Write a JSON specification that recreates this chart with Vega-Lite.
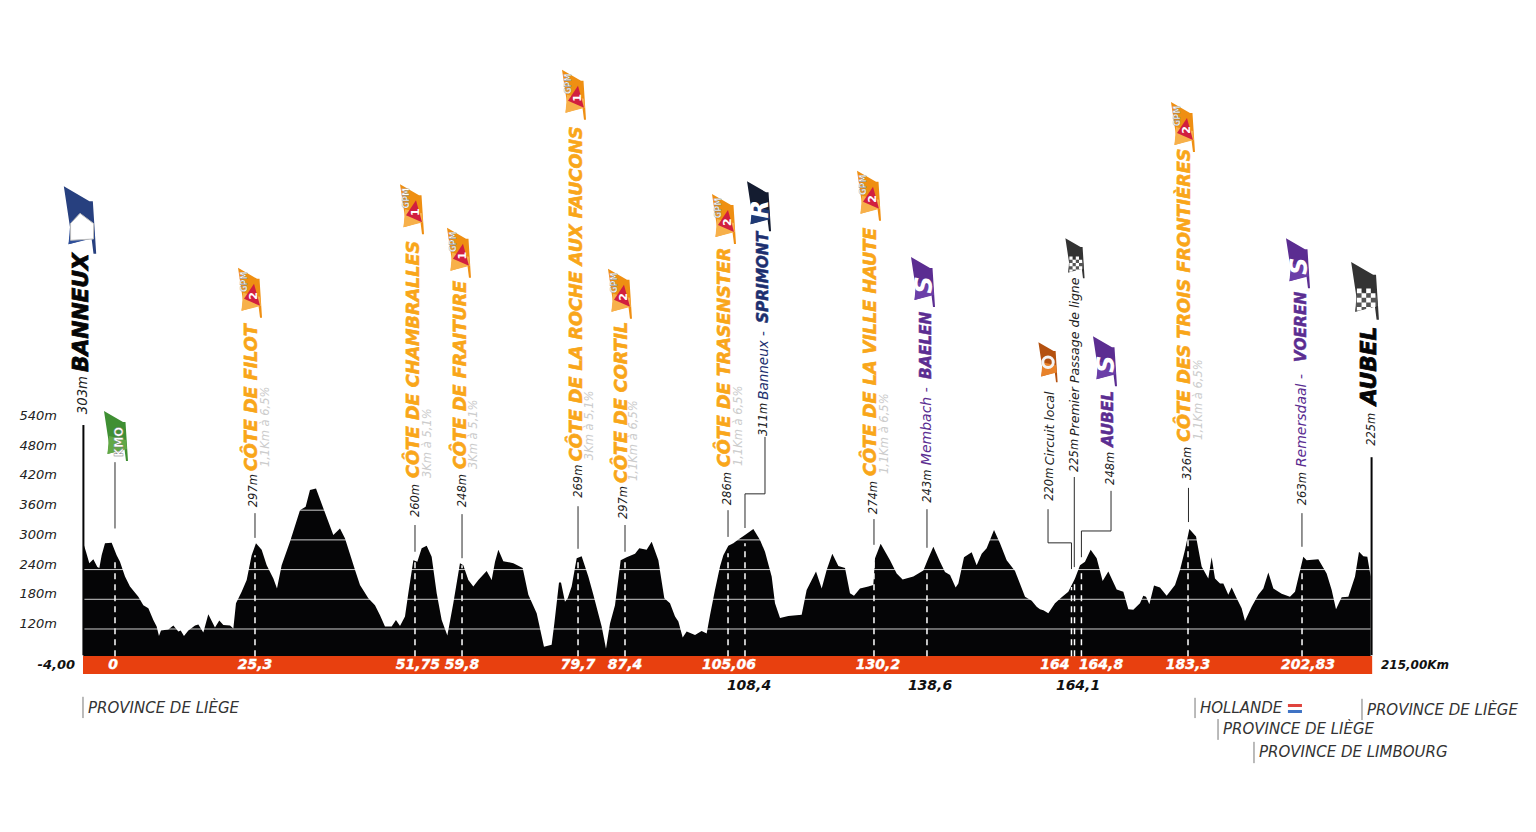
{
"$schema":"https://vega.github.io/schema/vega-lite/v6.json",
"autosize":{"type":"fit","contains":"padding"},"width":1536,"height":832,"padding":0,"background":"white",
"view":{"stroke":null},
"datasets":{
"profile":[{"km":-5.41,"elev":293},{"km":-4.96,"elev":276},{"km":-4.39,"elev":253},{"km":-3.7,"elev":261},{"km":-3.02,"elev":245},{"km":-2.68,"elev":243},{"km":-2.28,"elev":269},{"km":-1.71,"elev":293},{"km":-0.57,"elev":294},{"km":0.28,"elev":269},{"km":0.85,"elev":256},{"km":1.71,"elev":226},{"km":2.56,"elev":206},{"km":3.99,"elev":185},{"km":4.84,"elev":168},{"km":5.7,"elev":162},{"km":6.55,"elev":138},{"km":7.12,"elev":125},{"km":7.52,"elev":106},{"km":7.86,"elev":117},{"km":9.12,"elev":119},{"km":9.97,"elev":127},{"km":10.83,"elev":115},{"km":11.23,"elev":117},{"km":11.79,"elev":106},{"km":12.54,"elev":117},{"km":13.68,"elev":127},{"km":14.25,"elev":129},{"km":15.1,"elev":113},{"km":15.95,"elev":150},{"km":17.09,"elev":123},{"km":17.83,"elev":137},{"km":18.52,"elev":128},{"km":19.66,"elev":127},{"km":20.23,"elev":121},{"km":20.68,"elev":172},{"km":21.65,"elev":195},{"km":22.51,"elev":219},{"km":23.36,"elev":269},{"km":24.1,"elev":293},{"km":25.07,"elev":280},{"km":25.93,"elev":249},{"km":27.07,"elev":222},{"km":27.69,"elev":202},{"km":28.49,"elev":249},{"km":29.91,"elev":296},{"km":31.62,"elev":360},{"km":32.59,"elev":367},{"km":33.33,"elev":401},{"km":34.36,"elev":404},{"km":35.61,"elev":364},{"km":37.32,"elev":310},{"km":38.46,"elev":323},{"km":39.32,"elev":303},{"km":41.03,"elev":239},{"km":41.88,"elev":209},{"km":43.3,"elev":182},{"km":44.44,"elev":168},{"km":45.3,"elev":148},{"km":46.15,"elev":125},{"km":47.29,"elev":125},{"km":48.03,"elev":138},{"km":48.72,"elev":126},{"km":49.57,"elev":145},{"km":50.14,"elev":192},{"km":51,"elev":259},{"km":51.68,"elev":256},{"km":52.42,"elev":283},{"km":53.28,"elev":288},{"km":54.13,"elev":266},{"km":54.99,"elev":192},{"km":55.84,"elev":138},{"km":56.81,"elev":107},{"km":57.83,"elev":172},{"km":58.97,"elev":253},{"km":59.54,"elev":249},{"km":60.4,"elev":219},{"km":61.25,"elev":206},{"km":62.11,"elev":219},{"km":63.53,"elev":237},{"km":64.39,"elev":219},{"km":64.96,"elev":256},{"km":65.53,"elev":280},{"km":66.38,"elev":257},{"km":68.09,"elev":253},{"km":69.69,"elev":243},{"km":70.66,"elev":189},{"km":72.08,"elev":152},{"km":73.33,"elev":84},{"km":74.64,"elev":88},{"km":75.1,"elev":131},{"km":75.9,"elev":214},{"km":76.24,"elev":214},{"km":76.92,"elev":175},{"km":77.38,"elev":182},{"km":78.06,"elev":206},{"km":78.92,"elev":263},{"km":79.77,"elev":267},{"km":80.91,"elev":226},{"km":81.77,"elev":189},{"km":83.19,"elev":125},{"km":83.93,"elev":80},{"km":84.62,"elev":131},{"km":85.47,"elev":168},{"km":86.44,"elev":259},{"km":87.46,"elev":265},{"km":88.89,"elev":272},{"km":89.63,"elev":283},{"km":90.88,"elev":280},{"km":91.74,"elev":296},{"km":92.88,"elev":259},{"km":93.9,"elev":182},{"km":94.87,"elev":172},{"km":95.73,"elev":145},{"km":96.3,"elev":135},{"km":97.04,"elev":103},{"km":97.72,"elev":115},{"km":99.15,"elev":108},{"km":100.28,"elev":116},{"km":101.14,"elev":111},{"km":101.71,"elev":148},{"km":102.56,"elev":199},{"km":103.42,"elev":246},{"km":103.99,"elev":269},{"km":104.84,"elev":288},{"km":105.7,"elev":293},{"km":106.55,"elev":301},{"km":107.69,"elev":310},{"km":109.12,"elev":322},{"km":110.26,"elev":300},{"km":111.11,"elev":276},{"km":112.25,"elev":226},{"km":112.82,"elev":172},{"km":113.68,"elev":142},{"km":115.1,"elev":146},{"km":117.38,"elev":149},{"km":118.23,"elev":199},{"km":119.83,"elev":236},{"km":120.8,"elev":202},{"km":121.65,"elev":239},{"km":122.62,"elev":272},{"km":123.65,"elev":247},{"km":124.79,"elev":243},{"km":125.64,"elev":192},{"km":126.32,"elev":187},{"km":127.35,"elev":202},{"km":128.77,"elev":206},{"km":129.63,"elev":209},{"km":129.92,"elev":263},{"km":130.88,"elev":292},{"km":132.48,"elev":259},{"km":133.62,"elev":232},{"km":134.64,"elev":220},{"km":136.47,"elev":226},{"km":138.18,"elev":238},{"km":139.03,"elev":263},{"km":139.89,"elev":286},{"km":141.03,"elev":256},{"km":141.88,"elev":235},{"km":142.74,"elev":229},{"km":143.7,"elev":204},{"km":144.16,"elev":212},{"km":145.13,"elev":265},{"km":146.44,"elev":275},{"km":147.29,"elev":249},{"km":148.15,"elev":272},{"km":149,"elev":283},{"km":150.26,"elev":320},{"km":151.28,"elev":293},{"km":152.42,"elev":259},{"km":153.85,"elev":237},{"km":155.56,"elev":185},{"km":156.7,"elev":177},{"km":157.55,"elev":165},{"km":158.12,"elev":160},{"km":158.69,"elev":158},{"km":159.54,"elev":152},{"km":160.68,"elev":172},{"km":161.82,"elev":184},{"km":162.96,"elev":195},{"km":164.1,"elev":222},{"km":164.96,"elev":249},{"km":165.81,"elev":256},{"km":166.78,"elev":280},{"km":167.81,"elev":263},{"km":168.83,"elev":217},{"km":169.8,"elev":236},{"km":171.23,"elev":200},{"km":172.36,"elev":195},{"km":173.22,"elev":160},{"km":174.07,"elev":159},{"km":175.21,"elev":172},{"km":175.78,"elev":187},{"km":176.24,"elev":185},{"km":176.81,"elev":170},{"km":177.61,"elev":208},{"km":178.63,"elev":204},{"km":179.77,"elev":187},{"km":181.2,"elev":209},{"km":182.05,"elev":239},{"km":182.91,"elev":280},{"km":183.65,"elev":322},{"km":184.79,"elev":307},{"km":185.75,"elev":246},{"km":186.89,"elev":222},{"km":187.46,"elev":265},{"km":188.03,"elev":222},{"km":188.89,"elev":212},{"km":189.46,"elev":212},{"km":190.31,"elev":189},{"km":190.88,"elev":204},{"km":191.74,"elev":182},{"km":192.59,"elev":162},{"km":193.16,"elev":136},{"km":194.3,"elev":165},{"km":195.44,"elev":189},{"km":196.3,"elev":202},{"km":197.15,"elev":234},{"km":198.01,"elev":202},{"km":199.43,"elev":191},{"km":200.85,"elev":185},{"km":201.71,"elev":195},{"km":203.13,"elev":266},{"km":203.7,"elev":259},{"km":205.7,"elev":261},{"km":207.12,"elev":232},{"km":207.98,"elev":199},{"km":208.72,"elev":160},{"km":209.69,"elev":184},{"km":210.83,"elev":185},{"km":211.97,"elev":226},{"km":212.65,"elev":276},{"km":213.39,"elev":267},{"km":214.07,"elev":266},{"km":214.64,"elev":226}],
"grid":[{"km":-5.47,"km2":214.8,"elev":120},{"km":-5.47,"km2":214.8,"elev":180},{"km":-5.47,"km2":214.8,"elev":240},{"km":-5.47,"km2":214.8,"elev":300},{"km":-5.47,"km2":214.8,"elev":360}],
"yticks":[{"km":-9.91,"elev":120,"t":"120m"},{"km":-9.91,"elev":180,"t":"180m"},{"km":-9.91,"elev":240,"t":"240m"},{"km":-9.91,"elev":300,"t":"300m"},{"km":-9.91,"elev":360,"t":"360m"},{"km":-9.91,"elev":420,"t":"420m"},{"km":-9.91,"elev":480,"t":"480m"},{"km":-9.91,"elev":540,"t":"540m"}],
"dashes":[{"km":0,"elev":65,"elev2":259},{"km":23.93,"elev":65,"elev2":269},{"km":51.28,"elev":65,"elev2":259},{"km":59.32,"elev":65,"elev2":249},{"km":79.15,"elev":65,"elev2":259},{"km":87.18,"elev":65,"elev2":259},{"km":104.79,"elev":65,"elev2":273},{"km":107.69,"elev":65,"elev2":293},{"km":129.74,"elev":65,"elev2":259},{"km":138.8,"elev":65,"elev2":239},{"km":163.5,"elev":65,"elev2":205},{"km":164.02,"elev":65,"elev2":212},{"km":165.2,"elev":65,"elev2":239},{"km":183.42,"elev":65,"elev2":300},{"km":202.91,"elev":65,"elev2":239}],
"leaders":[
{"id":"a","i":0,"km":0,"elev":323},{"id":"a","i":1,"km":0,"elev":457},
{"id":"b","i":0,"km":23.93,"elev":304},{"id":"b","i":1,"km":23.93,"elev":354},
{"id":"c","i":0,"km":51.28,"elev":276},{"id":"c","i":1,"km":51.28,"elev":330},
{"id":"d","i":0,"km":59.32,"elev":263},{"id":"d","i":1,"km":59.32,"elev":352},
{"id":"e","i":0,"km":79.15,"elev":282},{"id":"e","i":1,"km":79.15,"elev":368},
{"id":"f","i":0,"km":87.18,"elev":276},{"id":"f","i":1,"km":87.18,"elev":330},
{"id":"g","i":0,"km":104.79,"elev":306},{"id":"g","i":1,"km":104.79,"elev":360},
{"id":"h","i":0,"km":107.69,"elev":324},{"id":"h","i":1,"km":107.69,"elev":393},{"id":"h","i":2,"km":111.11,"elev":393},{"id":"h","i":3,"km":111.11,"elev":508},
{"id":"j","i":0,"km":129.74,"elev":290},{"id":"j","i":1,"km":129.74,"elev":342},
{"id":"k","i":0,"km":138.8,"elev":284},{"id":"k","i":1,"km":138.8,"elev":362},
{"id":"l","i":0,"km":163.5,"elev":241},{"id":"l","i":1,"km":163.5,"elev":294},{"id":"l","i":2,"km":159.49,"elev":294},{"id":"l","i":3,"km":159.49,"elev":362},
{"id":"m","i":0,"km":163.98,"elev":245},{"id":"m","i":1,"km":163.98,"elev":427},
{"id":"n","i":0,"km":165.2,"elev":265},{"id":"n","i":1,"km":165.2,"elev":318},{"id":"n","i":2,"km":170.26,"elev":318},{"id":"n","i":3,"km":170.26,"elev":399},
{"id":"o","i":0,"km":183.5,"elev":336},{"id":"o","i":1,"km":183.5,"elev":405},
{"id":"p","i":0,"km":202.9,"elev":286},{"id":"p","i":1,"km":202.9,"elev":354}],
"ends":[{"km":-5.4,"elev":67,"elev2":532},{"km":214.8,"elev":67,"elev2":467}],
"band":[{"km":-5.47,"km2":214.9,"elev":65.5,"elev2":29.1}],
"bandlabels":[{"km":-0.34,"elev":47,"t":"0"},{"km":23.93,"elev":47,"t":"25,3"},{"km":51.79,"elev":47,"t":"51,75"},{"km":59.32,"elev":47,"t":"59,8"},{"km":79.15,"elev":47,"t":"79,7"},{"km":87.18,"elev":47,"t":"87,4"},{"km":104.96,"elev":47,"t":"105,06"},{"km":130.43,"elev":47,"t":"130,2"},{"km":160.68,"elev":47,"t":"164"},{"km":168.55,"elev":47,"t":"164,8"},{"km":183.42,"elev":47,"t":"183,3"},{"km":203.93,"elev":47,"t":"202,83"}],
"lowlabels":[{"km":108.38,"elev":5,"t":"108,4"},{"km":139.32,"elev":5,"t":"138,6"},{"km":164.62,"elev":5,"t":"164,1"}],
"startend":[{"km":-6.84,"elev":47,"t":"-4,00","a":"right"},{"km":216.4,"elev":47,"t":"215,00Km","a":"left"}],
"provticks":[{"km":-5.47,"elev":-17,"elev2":-60},{"km":184.62,"elev":-19,"elev2":-60},{"km":213.16,"elev":-21,"elev2":-64},{"km":188.55,"elev":-62,"elev2":-104},{"km":194.7,"elev":-108,"elev2":-151}],
"provs":[{"km":-4.62,"elev":-37.6,"t":"PROVINCE DE LIÈGE"},{"km":185.47,"elev":-37.6,"t":"HOLLANDE"},{"km":214,"elev":-41.6,"t":"PROVINCE DE LIÈGE"},{"km":189.4,"elev":-80,"t":"PROVINCE DE LIÈGE"},{"km":195.56,"elev":-126,"t":"PROVINCE DE LIMBOURG"}],
"nl":[{"km":200.5,"km2":202.9,"elev":-31.5,"elev2":-37.6,"s":"red"},{"km":200.5,"km2":202.9,"elev":-37.6,"elev2":-43.6,"s":"white"},{"km":200.5,"km2":202.9,"elev":-43.6,"elev2":-49.7,"s":"blue"}],
"labels":[
{"km":-5.47,"elev":554,"t":"303m","k":"altbig"},{"km":-5.81,"elev":639,"t":"BANNEUX","k":"name"},
{"km":23.76,"elev":366,"t":"297m","k":"alt"},{"km":23.42,"elev":439,"t":"CÔTE DE FILOT","k":"climb"},{"km":25.81,"elev":447,"t":"1,1Km à 6,5%","k":"grade"},
{"km":51.45,"elev":346,"t":"260m","k":"alt"},{"km":51.11,"elev":425,"t":"CÔTE DE CHAMBRALLES","k":"climb"},{"km":53.5,"elev":425,"t":"3Km à 5,1%","k":"grade"},
{"km":59.49,"elev":366,"t":"248m","k":"alt"},{"km":59.15,"elev":443,"t":"CÔTE DE FRAITURE","k":"climb"},{"km":61.37,"elev":443,"t":"3Km à 5,1%","k":"grade"},
{"km":79.32,"elev":385,"t":"269m","k":"alt"},{"km":78.97,"elev":459,"t":"CÔTE DE LA ROCHE AUX FAUCONS","k":"climb"},{"km":81.2,"elev":461,"t":"3Km à 5,1%","k":"grade"},
{"km":87,"elev":342,"t":"297m","k":"alt"},{"km":86.67,"elev":415,"t":"CÔTE DE CORTIL","k":"climb"},{"km":88.72,"elev":419,"t":"1,1Km à 6,5%","k":"grade"},
{"km":104.79,"elev":370,"t":"286m","k":"alt"},{"km":104.27,"elev":447,"t":"CÔTE DE TRASENSTER","k":"climb"},{"km":106.67,"elev":449,"t":"1,1Km à 6,5%","k":"grade"},
{"km":110.94,"elev":510,"t":"311m","k":"alt"},{"km":110.94,"elev":583,"t":"Banneux -","k":"navyit"},{"km":110.77,"elev":738,"t":"SPRIMONT","k":"navybd"},
{"km":129.74,"elev":352,"t":"274m","k":"alt"},{"km":129.23,"elev":429,"t":"CÔTE DE LA VILLE HAUTE","k":"climb"},{"km":131.62,"elev":433,"t":"1,1Km à 6,5%","k":"grade"},
{"km":138.97,"elev":375,"t":"243m","k":"alt"},{"km":138.8,"elev":451,"t":"Membach -","k":"purpit"},{"km":138.63,"elev":625,"t":"BAELEN","k":"purpbd"},
{"km":159.83,"elev":379,"t":"220m","k":"alt"},{"km":159.83,"elev":451,"t":"Circuit local","k":"word"},
{"km":164.1,"elev":437,"t":"225m","k":"alt"},{"km":164.1,"elev":510,"t":"Premier Passage de ligne","k":"word"},
{"km":170.26,"elev":411,"t":"248m","k":"alt"},{"km":169.74,"elev":488,"t":"AUBEL","k":"purpbd"},
{"km":183.42,"elev":421,"t":"326m","k":"alt"},{"km":182.91,"elev":498,"t":"CÔTE DES TROIS FRONTIÈRES","k":"climb"},{"km":185.3,"elev":502,"t":"1,1Km à 6,5%","k":"grade"},
{"km":203.08,"elev":370,"t":"263m","k":"alt"},{"km":202.91,"elev":447,"t":"Remersdaal -","k":"purpit"},{"km":202.74,"elev":659,"t":"VOEREN","k":"purpbd"},
{"km":214.87,"elev":490,"t":"225m","k":"alt"},{"km":214.36,"elev":572,"t":"AUBEL","k":"name"}],
"flags":[
{"km":0.17,"elev":510,"f":"KMO","g":"KMO"},{"km":23.08,"elev":799,"f":"GPM","n":"2"},{"km":50.77,"elev":968,"f":"GPM","n":"1"},{"km":58.8,"elev":880,"f":"GPM","n":"1"},{"km":78.46,"elev":1199,"f":"GPM","n":"1"},{"km":86.32,"elev":797,"f":"GPM","n":"2"},{"km":104.1,"elev":948,"f":"GPM","n":"2"},{"km":110.09,"elev":974,"f":"R","g":"R"},{"km":128.89,"elev":995,"f":"GPM","n":"2"},{"km":138.12,"elev":821,"f":"S","g":"S"},{"km":159.49,"elev":659,"f":"LOOP"},{"km":164.1,"elev":869,"f":"CHK"},{"km":169.23,"elev":661,"f":"S","g":"S"},{"km":182.56,"elev":1134,"f":"GPM","n":"2"},{"km":202.22,"elev":859,"f":"S","g":"S"},{"km":213.68,"elev":803,"f":"CHKB"},{"km":-5.98,"elev":946,"f":"HOME"}]
},
"encoding":{
"x":{"field":"km","type":"quantitative","axis":null,"scale":{"domain":[-19.658,242.906],"range":[0,1536],"nice":false,"zero":false}},
"y":{"field":"elev","type":"quantitative","axis":null,"scale":{"domain":[-290.1,1390.6],"range":[832,0],"nice":false,"zero":false}}
},
"layer":[
{"data":{"name":"profile"},"mark":{"type":"area","color":"#050506","interpolate":"linear"},"encoding":{"y2":{"datum":65.5}}},
{"data":{"name":"band"},"mark":{"type":"rect","color":"#e8400f"},"encoding":{"x2":{"field":"km2"},"y2":{"field":"elev2"}}},
{"data":{"name":"grid"},"mark":{"type":"rule","color":"#ffffff","opacity":0.8,"strokeWidth":1},"encoding":{"x2":{"field":"km2"}}},
{"data":{"name":"dashes"},"mark":{"type":"rule","color":"#ffffff","strokeWidth":1.5,"strokeDash":[6,5]},"encoding":{"y2":{"field":"elev2"}}},
{"data":{"name":"leaders"},"mark":{"type":"line","color":"#2a2a2a","strokeWidth":1,"interpolate":"linear"},"encoding":{"detail":{"field":"id"},"order":{"field":"i","type":"quantitative"}}},
{"data":{"name":"ends"},"mark":{"type":"rule","color":"#050506","strokeWidth":2},"encoding":{"y2":{"field":"elev2"}}},
{"data":{"name":"provticks"},"mark":{"type":"rule","color":"#777777","strokeWidth":1},"encoding":{"y2":{"field":"elev2"}}},
{"data":{"name":"nl"},"mark":{"type":"rect"},"encoding":{"x2":{"field":"km2"},"y2":{"field":"elev2"},"color":{"field":"s","type":"nominal","legend":null,"scale":{"domain":["red","white","blue"],"range":["#e0443e","#ffffff","#3f73c4"]}}}},
{"data":{"name":"yticks"},"mark":{"type":"text","align":"right","baseline":"middle","font":"DejaVu Sans","fontStyle":"italic","fontSize":13,"dy":-5,"color":"#222222"},"encoding":{"text":{"field":"t"}}},
{"data":{"name":"bandlabels"},"mark":{"type":"text","align":"center","baseline":"middle","font":"DejaVu Sans","fontStyle":"italic","fontWeight":"bold","fontSize":14,"color":"#ffffff","stroke":"#ffffff","strokeWidth":0.4},"encoding":{"text":{"field":"t"}}},
{"data":{"name":"lowlabels"},"mark":{"type":"text","align":"center","baseline":"middle","font":"DejaVu Sans","fontStyle":"italic","fontWeight":"bold","fontSize":14,"color":"#111111"},"encoding":{"text":{"field":"t"}}},
{"data":{"name":"startend"},"transform":[{"filter":"datum.a=='right'"}],"mark":{"type":"text","align":"right","baseline":"middle","font":"DejaVu Sans","fontStyle":"italic","fontWeight":"bold","fontSize":13,"color":"#111111"},"encoding":{"text":{"field":"t"}}},
{"data":{"name":"startend"},"transform":[{"filter":"datum.a=='left'"}],"mark":{"type":"text","align":"left","baseline":"middle","font":"DejaVu Sans","fontStyle":"italic","fontWeight":"bold","fontSize":12,"color":"#111111"},"encoding":{"text":{"field":"t"}}},
{"data":{"name":"provs"},"mark":{"type":"text","align":"left","baseline":"middle","font":"DejaVu Sans","fontStyle":"italic","fontSize":15,"dy":1,"color":"#333333"},"encoding":{"text":{"field":"t"}}},
{"data":{"name":"labels"},"transform":[{"filter":"datum.k=='alt'"}],"mark":{"type":"text","angle":270,"align":"left","baseline":"middle","font":"DejaVu Sans","fontStyle":"italic","fontSize":11.5,"color":"#222222"},"encoding":{"text":{"field":"t"}}},
{"data":{"name":"labels"},"transform":[{"filter":"datum.k=='altbig'"}],"mark":{"type":"text","angle":270,"align":"left","baseline":"middle","font":"DejaVu Sans","fontStyle":"italic","fontSize":13.2,"color":"#222222"},"encoding":{"text":{"field":"t"}}},
{"data":{"name":"labels"},"transform":[{"filter":"datum.k=='word'"}],"mark":{"type":"text","angle":270,"align":"left","baseline":"middle","font":"DejaVu Sans","fontStyle":"italic","fontSize":12.5,"color":"#222222"},"encoding":{"text":{"field":"t"}}},
{"data":{"name":"labels"},"transform":[{"filter":"datum.k=='grade'"}],"mark":{"type":"text","angle":270,"align":"left","baseline":"middle","font":"DejaVu Sans","fontStyle":"italic","fontSize":11.5,"color":"#cccccc"},"encoding":{"text":{"field":"t"}}},
{"data":{"name":"labels"},"transform":[{"filter":"datum.k=='climb'"}],"mark":{"type":"text","angle":270,"align":"left","baseline":"middle","font":"DejaVu Sans","fontStyle":"italic","fontWeight":"bold","fontSize":17.6,"color":"#f9a61a","stroke":"#f9a61a","strokeWidth":0.6},"encoding":{"text":{"field":"t"}}},
{"data":{"name":"labels"},"transform":[{"filter":"datum.k=='name'"}],"mark":{"type":"text","angle":270,"align":"left","baseline":"middle","font":"DejaVu Sans","fontStyle":"italic","fontWeight":"bold","fontSize":21.7,"color":"#050506","stroke":"#050506","strokeWidth":0.8},"encoding":{"text":{"field":"t"}}},
{"data":{"name":"labels"},"transform":[{"filter":"datum.k=='navyit'"}],"mark":{"type":"text","angle":270,"align":"left","baseline":"middle","font":"DejaVu Sans","fontStyle":"italic","fontSize":13.5,"color":"#1d2f6f"},"encoding":{"text":{"field":"t"}}},
{"data":{"name":"labels"},"transform":[{"filter":"datum.k=='navybd'"}],"mark":{"type":"text","angle":270,"align":"left","baseline":"middle","font":"DejaVu Sans","fontStyle":"italic","fontWeight":"bold","fontSize":15.3,"color":"#1d2f6f","stroke":"#1d2f6f","strokeWidth":0.5},"encoding":{"text":{"field":"t"}}},
{"data":{"name":"labels"},"transform":[{"filter":"datum.k=='purpit'"}],"mark":{"type":"text","angle":270,"align":"left","baseline":"middle","font":"DejaVu Sans","fontStyle":"italic","fontSize":14,"color":"#5b2d91"},"encoding":{"text":{"field":"t"}}},
{"data":{"name":"labels"},"transform":[{"filter":"datum.k=='purpbd'"}],"mark":{"type":"text","angle":270,"align":"left","baseline":"middle","font":"DejaVu Sans","fontStyle":"italic","fontWeight":"bold","fontSize":15.4,"color":"#5b2d91","stroke":"#5b2d91","strokeWidth":0.5},"encoding":{"text":{"field":"t"}}},
{"data":{"name":"flags"},"mark":{"type":"point","filled":true,"opacity":1,"shape":"M-0.24 -0.5 L0.14 -0.28 L0.19 -0.28 L0.24 0.5 L0.2 0.5 L0.17 0.26 L-0.17 0.36 L-0.14 0.16 Z"},"encoding":{"size":{"field":"f","type":"nominal","legend":null,"scale":{"type":"ordinal","domain":["KMO","GPM","R","S","LOOP","CHK","CHKB","HOME"],"range":[10000,10000,10000,10000,6400,6400,13400,18200]}},"color":{"field":"f","type":"nominal","legend":null,"scale":{"domain":["KMO","GPM","R","S","LOOP","CHK","CHKB","HOME"],"range":["#3f8f33","#ef8f12","#141c30","#5b2d91","#b4510f","#333333","#333333","#27407f"]}}}},
{"data":{"name":"flags"},"mark":{"type":"point","filled":true,"opacity":1,"shape":"M-0.14 0 L0.2 0.08 L0.22 0.26 L-0.17 0.36 Z"},"encoding":{"size":{"field":"f","type":"nominal","legend":null,"scale":{"type":"ordinal","domain":["KMO","GPM","R","S","LOOP","CHK","CHKB","HOME"],"range":[10000,10000,10000,10000,6400,6400,13400,18200]}},"color":{"field":"f","type":"nominal","legend":null,"scale":{"domain":["KMO","GPM","R","S","LOOP","CHK","CHKB","HOME"],"range":["#62a846","#f7b04a","#1f3a75","#6b3fa8","#e8822a","#555555","#555555","#2e4f9a"]}}}},
{"data":{"name":"flags"},"transform":[{"filter":"datum.f=='GPM'"}],"mark":{"type":"point","filled":true,"opacity":1,"size":10000,"color":"#d11f3f","shape":"M0.08 -0.18 L0.2 0.26 L-0.12 0.12 Z"}},
{"data":{"name":"flags"},"transform":[{"filter":"datum.f=='GPM'"}],"mark":{"type":"text","text":"GPM","angle":270,"align":"center","baseline":"middle","font":"DejaVu Sans","fontWeight":"bold","fontSize":8,"color":"#ffffff","stroke":"#777777","strokeWidth":0.3,"dx":11,"dy":-5}},
{"data":{"name":"flags"},"transform":[{"filter":"datum.f=='GPM'"}],"mark":{"type":"text","angle":270,"align":"center","baseline":"middle","font":"DejaVu Sans","fontWeight":"bold","fontSize":11,"color":"#ffffff","dx":-3,"dy":4},"encoding":{"text":{"field":"n"}}},
{"data":{"name":"flags"},"transform":[{"filter":"datum.f=='KMO'"}],"mark":{"type":"text","angle":270,"align":"center","baseline":"middle","font":"DejaVu Sans","fontWeight":"bold","fontSize":11.5,"color":"#ffffff","stroke":"#777777","strokeWidth":0.4,"dx":-6,"dy":4},"encoding":{"text":{"field":"g"}}},
{"data":{"name":"flags"},"transform":[{"filter":"datum.f=='R'||datum.f=='S'"}],"mark":{"type":"text","angle":270,"align":"center","baseline":"middle","font":"DejaVu Sans","fontWeight":"bold","fontStyle":"italic","fontSize":24,"color":"#ffffff","dx":-3,"dy":2},"encoding":{"text":{"field":"g"}}},
{"data":{"name":"flags"},"transform":[{"filter":"datum.f=='LOOP'"}],"mark":{"type":"point","shape":"circle","filled":false,"opacity":1,"size":110,"strokeWidth":3,"color":"#f4f4f4"}},
{"data":{"name":"flags"},"transform":[{"filter":"datum.f=='CHK'||datum.f=='CHKB'"}],"mark":{"type":"point","filled":true,"opacity":1,"color":"#ffffff","shape":"M-0.14 -0.04 h0.08 v0.08 h-0.08 Z M0.02 -0.04 h0.08 v0.08 h-0.08 Z M-0.06 0.04 h0.08 v0.08 h-0.08 Z M0.1 0.04 h0.08 v0.08 h-0.08 Z M-0.14 0.12 h0.08 v0.08 h-0.08 Z M0.02 0.12 h0.08 v0.08 h-0.08 Z M-0.06 0.2 h0.08 v0.08 h-0.08 Z M0.1 0.2 h0.08 v0.08 h-0.08 Z M-0.14 0.28 h0.08 v0.06 h-0.08 Z M0.02 0.28 h0.08 v0.04 h-0.08 Z"},"encoding":{"size":{"field":"f","type":"nominal","legend":null,"scale":{"type":"ordinal","domain":["CHK","CHKB"],"range":[6400,13400]}}}},
{"data":{"name":"flags"},"transform":[{"filter":"datum.f=='HOME'"}],"mark":{"type":"point","filled":true,"opacity":1,"size":18200,"color":"#ffffff","stroke":"#bbbbbb","strokeWidth":1,"shape":"M0 -0.1 L0.2 0.05 L0.2 0.28 L-0.14 0.3 L-0.14 0.05 Z"}}
],
"resolve":{"scale":{"color":"independent","size":"independent"}}
}
